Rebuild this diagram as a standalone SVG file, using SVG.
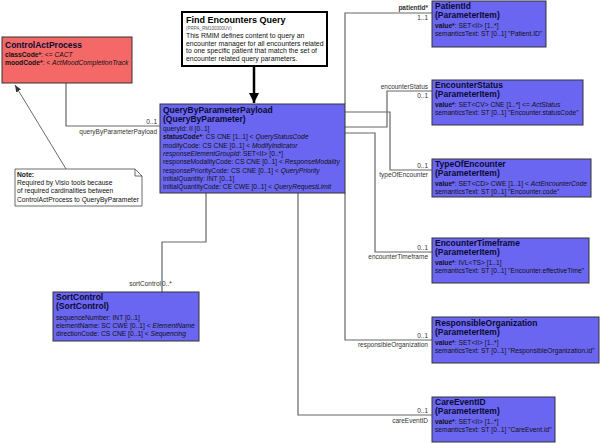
<svg xmlns="http://www.w3.org/2000/svg" width="600" height="443" viewBox="0 0 600 443">
<defs>
<style>
text{font-family:"Liberation Sans",Arial,sans-serif;fill:#111;}
.t{font-size:8.5px;font-weight:bold;fill:#0a0a30;}
.a{font-size:6.7px;}
.b{font-weight:bold;}
.i{font-style:italic;}
.lbl{font-size:6.5px;fill:#333;text-anchor:end;}
.box{fill:#6b66f2;stroke:#333;stroke-width:1;}
.red{fill:#f46868;stroke:#333;stroke-width:1;}
.con{fill:none;stroke:#666;stroke-width:1.2;}
</style>
<marker id="thick" viewBox="0 0 10 10" refX="10" refY="5" markerWidth="4" markerHeight="4" orient="auto" markerUnits="strokeWidth">
<path d="M0,0 L10,5 L0,10 z" fill="#000"/>
</marker>
<marker id="open" viewBox="0 0 10 10" refX="10" refY="5" markerWidth="7" markerHeight="7" orient="auto" markerUnits="userSpaceOnUse">
<path d="M0,1 L10,5 L0,9 z" fill="#333"/>
</marker>
</defs>
<rect width="600" height="443" fill="#fff"/>

<g id="connectors">
<path class="con" d="M66,83 V126 H160"/>
<path d="M66,169 L15,85" fill="none" stroke="#444" stroke-width="0.8" marker-end="url(#open)"/>
<path d="M254,66 V103" fill="none" stroke="#000" stroke-width="2.5" marker-end="url(#thick)"/>
<path class="con" d="M345,104 V13 H432"/>
<path class="con" d="M345,127 H387 V91 H432"/>
<path class="con" d="M345,112 H390 V170 H432"/>
<path class="con" d="M345,133 H375 V252 H432"/>
<path class="con" d="M345,193 V340 H432"/>
<path class="con" d="M298,193 V415 H432"/>
<path class="con" d="M206,193 V242 H162 V292"/>
<text class="lbl" x="157" y="124">0..1</text>
<text class="lbl" x="157" y="134">queryByParameterPayload</text>
<text class="lbl" x="161" y="286">sortControl</text>
<text class="lbl" x="162" y="286" style="text-anchor:start">0..*</text>
<text class="lbl b" x="428" y="10">patientId*</text>
<text class="lbl" x="428" y="20">1..1</text>
<text class="lbl" x="428" y="89">encounterStatus</text>
<text class="lbl" x="428" y="98">0..1</text>
<text class="lbl" x="428" y="168">0..1</text>
<text class="lbl" x="428" y="177">typeOfEncounter</text>
<text class="lbl" x="428" y="250">0..1</text>
<text class="lbl" x="428" y="259">encounterTimeframe</text>
<text class="lbl" x="428" y="338">0..1</text>
<text class="lbl" x="428" y="347">responsibleOrganization</text>
<text class="lbl" x="428" y="413">0..1</text>
<text class="lbl" x="428" y="423">careEventID</text>
</g>

<g id="controlActProcess">
<rect class="red" x="2" y="37" width="130" height="46"/>
<text class="t" x="5" y="48">ControlActProcess</text>
<text class="a" x="5" y="57"><tspan class="b">classCode*</tspan>: &lt;= <tspan class="i">CACT</tspan></text>
<text class="a" x="5" y="65"><tspan class="b">moodCode*</tspan>: &lt; <tspan class="i">ActMoodCompletionTrack</tspan></text>
</g>

<g id="findEncountersQuery">
<rect x="182" y="12" width="145" height="54" fill="#fff" stroke="#000" stroke-width="2"/>
<text class="t" x="186" y="23" style="font-size:9px;fill:#000">Find Encounters Query</text>
<text x="186" y="30" style="font-size:4.5px;fill:#555">(PRPA_RM100300UV)</text>
<text class="a" x="186" y="38" style="font-size:6.9px">This RMIM defines content to query an</text>
<text class="a" x="186" y="45.5" style="font-size:6.9px">encounter manager for all encounters related</text>
<text class="a" x="186" y="53" style="font-size:6.9px">to one specific patient that match the set of</text>
<text class="a" x="186" y="60.5" style="font-size:6.9px">encounter related query parameters.</text>
</g>

<g id="note">
<path d="M15,169 H135 L142,176 V206 H15 Z" fill="#fff" stroke="#444" stroke-width="0.8"/>
<path d="M135,169 V176 H142" fill="none" stroke="#444" stroke-width="0.8"/>
<text class="a b" x="17" y="177">Note:</text>
<text class="a" x="17" y="185">Required by Visio tools because</text>
<text class="a" x="17" y="193">of required cardinalities between</text>
<text class="a" x="17" y="202">ControlActProcess to QueryByParameter</text>
</g>

<g id="queryByParameterPayload">
<rect class="box" x="160" y="104" width="185" height="89"/>
<text class="t" x="163" y="113">QueryByParameterPayload</text>
<text class="t" x="163" y="122">(QueryByParameter)</text>
<text class="a" x="163" y="131">queryId: II [0..1]</text>
<text class="a" x="163" y="139.3"><tspan class="b">statusCode*</tspan>: CS CNE [1..1] &lt; <tspan class="i">QueryStatusCode</tspan></text>
<text class="a" x="163" y="147.6">modifyCode: CS CNE [0..1] &lt; <tspan class="i">ModifyIndicator</tspan></text>
<text class="a" x="163" y="155.9"><tspan class="i">responseElementGroupId</tspan>: SET&lt;II&gt; [0..*]</text>
<text class="a" x="163" y="164.2">responseModalityCode: CS CNE [0..1] &lt; <tspan class="i">ResponseModality</tspan></text>
<text class="a" x="163" y="172.5">responsePriorityCode: CS CNE [0..1] &lt; <tspan class="i">QueryPriority</tspan></text>
<text class="a" x="163" y="180.8">initialQuantity: INT [0..1]</text>
<text class="a" x="163" y="189.1">initialQuantityCode: CE CWE [0..1] &lt; <tspan class="i">QueryRequestLimit</tspan></text>
</g>

<g id="sortControl">
<rect class="box" x="53" y="292" width="146" height="49"/>
<text class="t" x="56" y="300">SortControl</text>
<text class="t" x="56" y="309">(SortControl)</text>
<text class="a" x="56" y="320">sequenceNumber: INT [0..1]</text>
<text class="a" x="56" y="328">elementName: SC CWE [0..1] &lt; <tspan class="i">ElementName</tspan></text>
<text class="a" x="56" y="336">directionCode: CS CNE [0..1] &lt; <tspan class="i">Sequencing</tspan></text>
</g>

<g id="patientId">
<rect class="box" x="432" y="1" width="114" height="46"/>
<text class="t" x="435" y="9">PatientId</text>
<text class="t" x="435" y="18">(ParameterItem)</text>
<text class="a" x="435" y="28"><tspan class="b">value*</tspan>: SET&lt;II&gt; [1..*]</text>
<text class="a" x="435" y="36">semanticsText: ST [0..1] "Patient.ID"</text>
</g>

<g id="encounterStatus">
<rect class="box" x="432" y="80" width="151" height="45"/>
<text class="t" x="435" y="88">EncounterStatus</text>
<text class="t" x="435" y="97">(ParameterItem)</text>
<text class="a" x="435" y="107"><tspan class="b">value*</tspan>: SET&lt;CV&gt; CNE [1..*] &lt;= <tspan class="i">ActStatus</tspan></text>
<text class="a" x="435" y="115">semanticsText: ST [0..1] "Encounter.statusCode"</text>
</g>

<g id="typeOfEncounter">
<rect class="box" x="432" y="159" width="159" height="38"/>
<text class="t" x="435" y="167">TypeOfEncounter</text>
<text class="t" x="435" y="176">(ParameterItem)</text>
<text class="a" x="435" y="186"><tspan class="b">value*</tspan>: SET&lt;CD&gt; CWE [1..1] &lt; <tspan class="i">ActEncounterCode</tspan></text>
<text class="a" x="435" y="194">semanticsText: ST [0..1] "Encounter.code"</text>
</g>

<g id="encounterTimeframe">
<rect class="box" x="432" y="238" width="157" height="45"/>
<text class="t" x="435" y="246">EncounterTimeframe</text>
<text class="t" x="435" y="255">(ParameterItem)</text>
<text class="a" x="435" y="265"><tspan class="b">value*</tspan>: IVL&lt;TS&gt; [1..1]</text>
<text class="a" x="435" y="273">semanticsText: ST [0..1] "Encounter.effectiveTime"</text>
</g>

<g id="responsibleOrganization">
<rect class="box" x="432" y="317" width="167" height="46"/>
<text class="t" x="435" y="326">ResponsibleOrganization</text>
<text class="t" x="435" y="335">(ParameterItem)</text>
<text class="a" x="435" y="345"><tspan class="b">value*</tspan>: SET&lt;II&gt; [1..*]</text>
<text class="a" x="435" y="353">semanticsText: ST [0..1] "ResponsibleOrganization.id"</text>
</g>

<g id="careEventID">
<rect class="box" x="432" y="397" width="123" height="45"/>
<text class="t" x="435" y="405">CareEventID</text>
<text class="t" x="435" y="414">(ParameterItem)</text>
<text class="a" x="435" y="424"><tspan class="b">value*</tspan>: SET&lt;II&gt; [1..*]</text>
<text class="a" x="435" y="432">semanticsText: ST [0..1] "CareEvent.id"</text>
</g>
</svg>
